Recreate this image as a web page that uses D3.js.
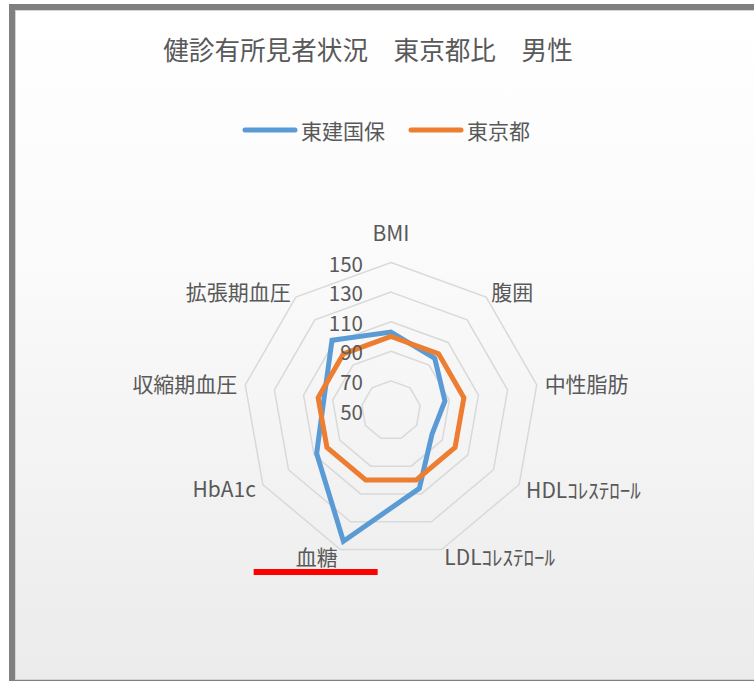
<!DOCTYPE html>
<html>
<head>
<meta charset="utf-8">
<script src="https://cdn.jsdelivr.net/npm/d3@7"></script>
<style>
  html, body { margin: 0; padding: 0; background: #ffffff; }
  svg { display: block; }
  text { font-family: "Noto Sans CJK JP", "Noto Sans", sans-serif; fill: #595959; }
</style>
</head>
<body>
<svg id="chart" width="754" height="681"></svg>
<script>
// ---- data ----
const title = "健診有所見者状況　東京都比　男性";
const categories = ["BMI", "腹囲", "中性脂肪", "HDLｺﾚｽﾃﾛｰﾙ", "LDLｺﾚｽﾃﾛｰﾙ", "血糖", "HbA1c", "収縮期血圧", "拡張期血圧"];
const seriesNames = ["東建国保", "東京都"];
const seriesColors = ["#5b9bd5", "#ed7d31"];
const valuesToken = [103, 96, 87, 82, 106, 144, 108, 96, 112];
const valuesTokyo = [100, 100, 100, 100, 100, 100, 100, 100, 100];
const tickValues = [50, 70, 90, 110, 130, 150];
const highlighted = "血糖";

// ---- layout ----
const W = 754, H = 681;
const cx = 391, cy = 410.5, R = 148;
const svg = d3.select("#chart");

const defs = svg.append("defs");
const grad = defs.append("linearGradient").attr("id", "bg").attr("x1", 0).attr("y1", 0).attr("x2", 0).attr("y2", 1);
grad.append("stop").attr("offset", "0%").attr("stop-color", "#ffffff");
grad.append("stop").attr("offset", "35%").attr("stop-color", "#fbfbfb");
grad.append("stop").attr("offset", "100%").attr("stop-color", "#ebebeb");

// frame
svg.append("rect").attr("x", 12).attr("y", 7).attr("width", 800).attr("height", 676)
  .attr("fill", "url(#bg)").attr("stroke", "#808080").attr("stroke-width", 6);
svg.append("rect").attr("x", 15.5).attr("y", 10.5).attr("width", 800).attr("height", 669)
  .attr("fill", "none").attr("stroke", "#d4d4d4").attr("stroke-width", 1);

// title
svg.append("text").attr("x", 368).attr("y", 48).attr("text-anchor", "middle")
  .attr("dominant-baseline", "central").style("font-size", "25.6px").text(title);

// scales
const r = d3.scaleLinear().domain([tickValues[0], tickValues[tickValues.length - 1]]).range([0, R]);
const angle = d3.scalePoint().domain(categories).range([0, 2 * Math.PI * (categories.length - 1) / categories.length]);
const g = svg.append("g").attr("transform", `translate(${cx},${cy})`);

const ptX = (c, v) => r(v) * Math.sin(angle(c));
const ptY = (c, v) => -r(v) * Math.cos(angle(c));

// grid rings
const ring = d3.line().x(d => d[0]).y(d => d[1]).curve(d3.curveLinearClosed);
tickValues.slice(1).forEach(t => {
  g.append("path").attr("d", ring(categories.map(c => [ptX(c, t), ptY(c, t)])))
    .attr("fill", "none").attr("stroke", "#d9d9d9").attr("stroke-width", 1.5);
});

// series
const series = [valuesToken, valuesTokyo];
series.forEach((vals, i) => {
  g.append("path").attr("d", ring(categories.map((c, k) => [ptX(c, vals[k]), ptY(c, vals[k])])))
    .attr("fill", "none").attr("stroke", seriesColors[i]).attr("stroke-width", 5)
    .attr("stroke-linejoin", "miter");
});

// tick labels
tickValues.forEach(t => {
  g.append("text").attr("x", -28).attr("y", -r(t)).attr("text-anchor", "end")
    .attr("dominant-baseline", "central").style("font-size", "20.5px").text(t);
});

// category labels
categories.forEach(c => {
  const a = angle(c);
  const s = Math.sin(a), co = Math.cos(a);
  let anchor = Math.abs(s) < 0.05 ? "middle" : (s > 0 ? "start" : "end");
  let rr = R + 8;
  let x = rr * s, y = -rr * co;
  if (Math.abs(s) < 0.05) { y = -R - 31; }
  if (co < -0.5) { y -= 1; }
  g.append("text").attr("x", x).attr("y", y).attr("text-anchor", anchor)
    .attr("dominant-baseline", "central").style("font-size", "21px").text(c);
  if (c === highlighted) {
    g.append("line").attr("x1", x - 84).attr("x2", x + 40).attr("y1", y + 16).attr("y2", y + 16)
      .attr("stroke", "#ff0000").attr("stroke-width", 6);
  }
});

// legend
const legendX = [243, 409], legendY = 130;
seriesNames.forEach((n, i) => {
  svg.append("line").attr("x1", legendX[i] + 2).attr("x2", legendX[i] + 52)
    .attr("y1", legendY).attr("y2", legendY)
    .attr("stroke", seriesColors[i]).attr("stroke-width", 5).attr("stroke-linecap", "round");
  svg.append("text").attr("x", legendX[i] + 58).attr("y", legendY).attr("dominant-baseline", "central")
    .style("font-size", "21px").text(n);
});
</script>
</body>
</html>
